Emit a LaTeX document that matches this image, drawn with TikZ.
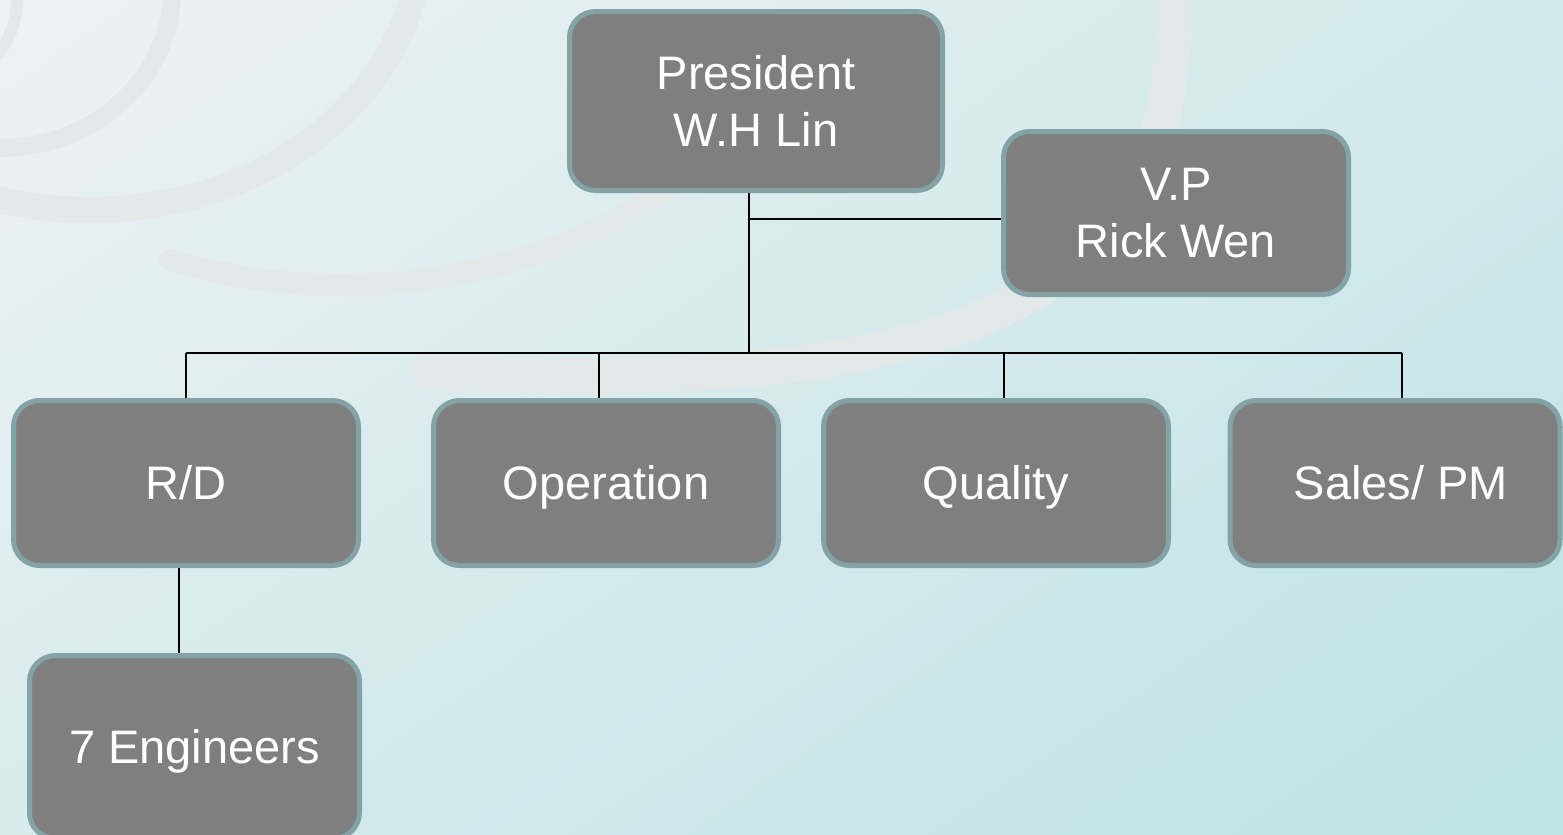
\documentclass[tikz,border=0pt]{standalone}
\usepackage{fontspec}
\setmainfont{Liberation Sans}
\usetikzlibrary{backgrounds,shadings}
\definecolor{boxfill}{HTML}{7F7F7F}
\definecolor{boxborder}{HTML}{84A3A7}
\definecolor{bandc}{HTML}{E3E8E9}
\definecolor{bgUL}{HTML}{EEF2F3}
\definecolor{bgUR}{HTML}{D2E9EB}
\definecolor{bgLL}{HTML}{D8EBED}
\definecolor{bgLR}{HTML}{BEE2E5}
\tikzset{
  orgbox/.style={draw=boxborder, fill=boxfill, line width=5pt, rounded corners=26pt,
    text=white, font=\fontsize{47}{57}\selectfont, align=center, inner sep=0pt},
  oneline/.style={text height=33.6pt, text depth=0pt},
  link/.style={draw=black, line width=2.3pt},
  band/.style={draw=bandc, line cap=round}
}
\begin{document}
\begin{tikzpicture}[x=1pt,y=-1pt]
\useasboundingbox (0,0) rectangle (1563,835);
% nodes
\node[orgbox, minimum width=373pt, minimum height=179pt] (pres) at (756,101) {President\\W.H Lin};
\node[orgbox, minimum width=345pt, minimum height=163pt] (vp) at (1176,213) {V.P\\Rick Wen};
\node[orgbox, oneline, minimum width=345pt, minimum height=165pt] (rd) at (186,483) {R/D};
\node[orgbox, oneline, minimum width=345pt, minimum height=165pt] (op) at (606,483) {Operation};
\node[orgbox, oneline, minimum width=345pt, minimum height=165pt] (qu) at (996,483) {Quality};
\node[orgbox, oneline, minimum width=330pt, minimum height=165pt] (sa) at (1395,483) {\hspace*{12pt}Sales/ PM};
\node[orgbox, oneline, minimum width=330pt, minimum height=183pt] (en) at (194.5,747) {7 Engineers};
% junction coordinates
\coordinate (trunk) at (749,353);
\coordinate (vpj) at (749,219);
\coordinate (busL) at (186,353);
\coordinate (busR) at (1402,353);
\coordinate (dOp) at (599,353);
\coordinate (dQu) at (1004,353);
\coordinate (engx) at (179,600);
\begin{pgfonlayer}{background}
  \shade[upper left=bgUL, upper right=bgUR, lower left=bgLL, lower right=bgLR]
    (0,0) rectangle (1563,835);
  \begin{scope}
    \clip (0,0) rectangle (1563,835);
    \draw[band, line width=36pt] (1172,-20) .. controls (1190,280) and (1000,400) .. (430,372);
    \draw[band, line width=26pt] (90,-60) ellipse [x radius=330pt, y radius=270pt];
    \draw[band, line width=18pt] (0,-10) ellipse [x radius=172pt, y radius=158pt];
    \draw[band, line width=12pt] (-20,-10) ellipse [x radius=38pt, y radius=72pt];
    \draw[band, line width=22pt] (170,260) .. controls (330,310) and (560,290) .. (720,150);
  \end{scope}
  % connectors
  \draw[link] (pres.south -| trunk) -- (trunk);
  \draw[link] (vpj) -- (vpj -| vp.west);
  \draw[link] (busL) -- (busR);
  \draw[link] (busL) -- (busL |- rd.north);
  \draw[link] (dOp) -- (dOp |- op.north);
  \draw[link] (dQu) -- (dQu |- qu.north);
  \draw[link] (busR) -- (busR |- sa.north);
  \draw[link] (rd.south -| engx) -- (engx |- en.north);
\end{pgfonlayer}
\end{tikzpicture}
\end{document}
